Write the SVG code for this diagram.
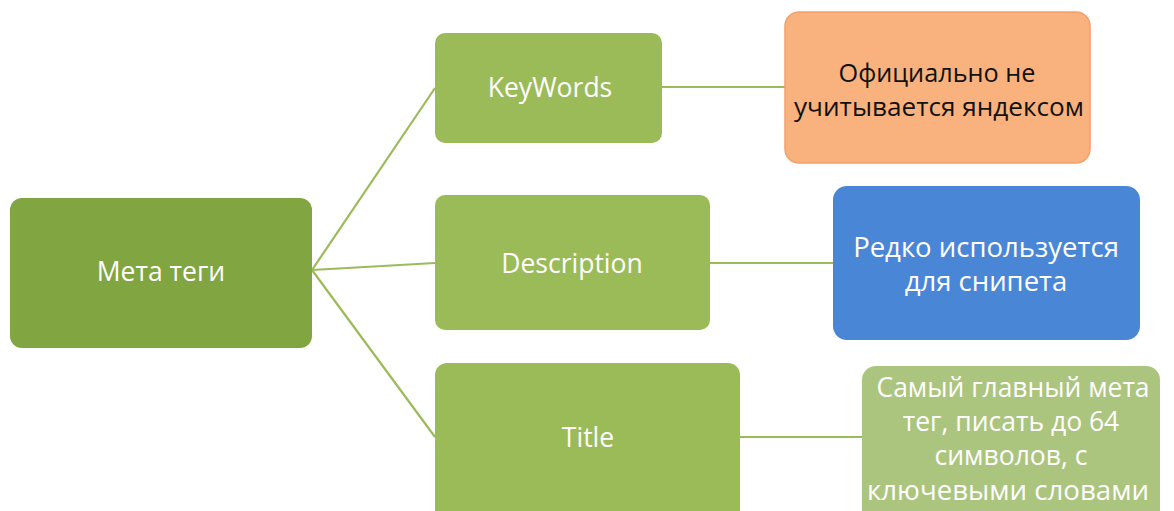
<svg xmlns="http://www.w3.org/2000/svg" width="1174" height="511" viewBox="0 0 1174 511">
<style>
.lbl{font-family:"Open Sans","Liberation Sans",sans-serif;font-size:26.5px;fill:#ffffff;text-anchor:middle}
.note{font-size:27.5px}
.tnote{font-size:26.5px}
.dark{fill:#111111;font-size:26px}
.conn{stroke:#9bbb59;stroke-width:2.2;fill:none}
</style>
<rect width="1174" height="511" fill="#ffffff"/>
<g id="connectors">
<line class="conn" x1="312" y1="270" x2="435" y2="88"/>
<line class="conn" x1="312" y1="270" x2="435" y2="263"/>
<line class="conn" x1="312" y1="270" x2="435" y2="437"/>
<line class="conn" x1="662" y1="87" x2="785" y2="87"/>
<line class="conn" x1="710" y1="263" x2="833" y2="263"/>
<line class="conn" x1="740" y1="437" x2="862" y2="437"/>
</g>
<g id="node-meta">
<rect x="10" y="198" width="302" height="150" rx="12" fill="#80a541"/>
<text class="lbl" x="161" y="281">Мета теги</text>
</g>
<g id="node-keywords">
<rect x="435" y="33" width="227" height="110" rx="10" fill="#9bbb59"/>
<text class="lbl" x="550" y="97">KeyWords</text>
</g>
<g id="node-keywords-note">
<rect x="785" y="12" width="305" height="151" rx="14" fill="#f9b27e" stroke="#f3a06a" stroke-width="1.5"/>
<text class="lbl dark" x="937" y="82" textLength="197" lengthAdjust="spacingAndGlyphs">Официально не</text>
<text class="lbl dark" x="939" y="116" textLength="290" lengthAdjust="spacingAndGlyphs">учитывается яндексом</text>
</g>
<g id="node-description">
<rect x="435" y="195" width="275" height="135" rx="10" fill="#9bbb59"/>
<text class="lbl" x="572" y="273">Description</text>
</g>
<g id="node-description-note">
<rect x="833" y="186" width="307" height="154" rx="14" fill="#4a86d6"/>
<text class="lbl note" x="986" y="257">Редко используется</text>
<text class="lbl note" x="986" y="291">для снипета</text>
</g>
<g id="node-title">
<rect x="435" y="363" width="305" height="160" rx="12" fill="#9bbb59"/>
<text class="lbl" x="588" y="447">Title</text>
</g>
<g id="node-title-note">
<rect x="862" y="366" width="298" height="160" rx="14" fill="#abc57e"/>
<text class="lbl tnote" x="1013" y="397" textLength="273" lengthAdjust="spacingAndGlyphs">Самый главный мета</text>
<text class="lbl tnote" x="1011" y="431">тег, писать до 64</text>
<text class="lbl tnote" x="1011" y="465">символов, с</text>
<text class="lbl tnote" x="1008" y="500" textLength="282" lengthAdjust="spacingAndGlyphs">ключевыми словами</text>
</g>
</svg>
